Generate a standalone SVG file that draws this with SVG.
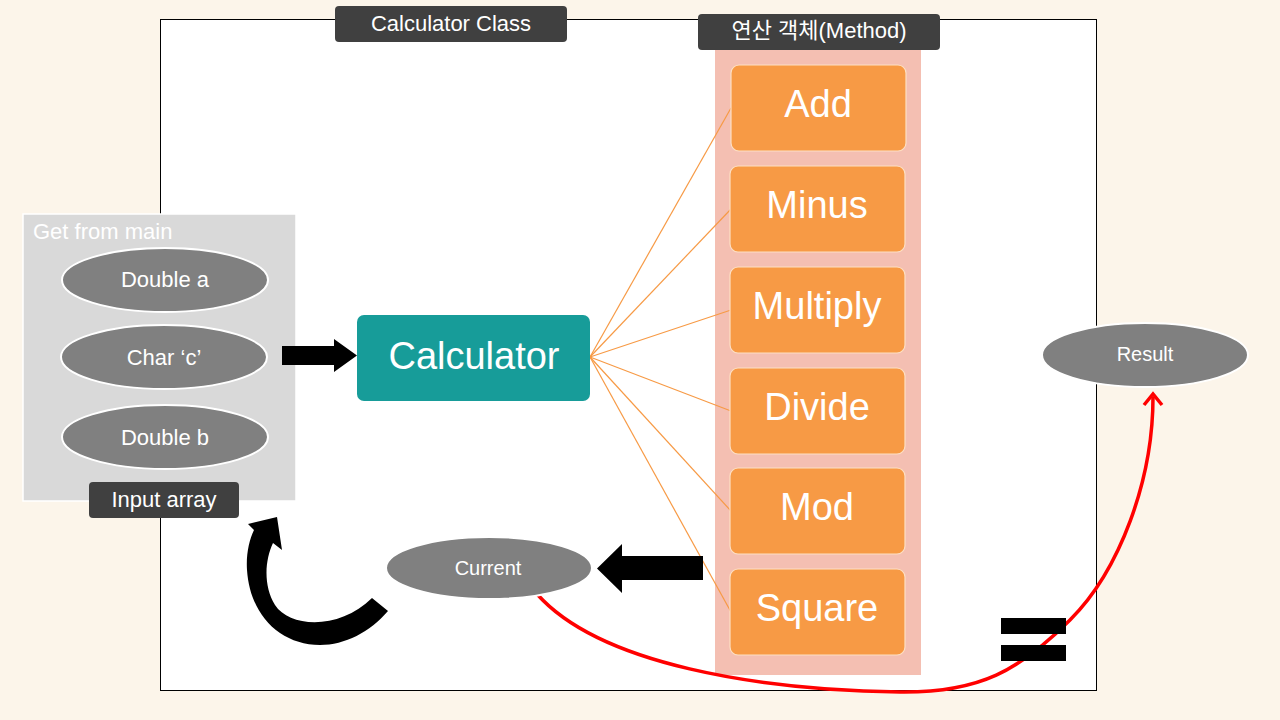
<svg xmlns="http://www.w3.org/2000/svg" width="1280" height="720" viewBox="0 0 1280 720">
<style>
text{font-family:"Liberation Sans","Noto Sans CJK KR",sans-serif;fill:#fff;text-anchor:middle}
.lbl{fill:#404040}
.ell{fill:#808080;stroke:#fff;stroke-width:2}
.op{fill:#f79a45;stroke:#fde0c4;stroke-width:1.2}
.opt{font-size:38px}
.et{font-size:22px}
.conn{stroke:#f79a45;stroke-width:1.2;fill:none}
</style>
<rect width="1280" height="720" fill="#fcf5ea"/>
<rect x="160.5" y="19.5" width="936" height="671" fill="#fff" stroke="#000" stroke-width="1"/>
<g id="classLabel"><rect class="lbl" x="335" y="6" width="232" height="36" rx="4"/><text x="451" y="31" font-size="22">Calculator Class</text></g>
<g id="methodColumn"><rect x="715" y="45" width="206" height="630" fill="#f4bfb2"/></g>
<g id="methodLabel"><rect class="lbl" x="698" y="14" width="242" height="36" rx="4"/><text x="819" y="38" font-size="22">연산 객체(Method)</text></g>
<g id="inputBox">
<rect x="23" y="214" width="273" height="287" fill="#d9d9d9" stroke="#fff" stroke-width="1.5"/>
<text x="33" y="239" font-size="22" style="text-anchor:start">Get from main</text>
</g>
<g id="connectors">
<line class="conn" x1="590" y1="357" x2="731" y2="108"/>
<line class="conn" x1="590" y1="357" x2="731" y2="209"/>
<line class="conn" x1="590" y1="357" x2="731" y2="310"/>
<line class="conn" x1="590" y1="357" x2="731" y2="411"/>
<line class="conn" x1="590" y1="357" x2="731" y2="511"/>
<line class="conn" x1="590" y1="357" x2="731" y2="612"/>
<path d="M537,594 C600,665 760,690 900,692 C980,693 1020,670 1070,620 C1120,570 1153,480 1153,397" fill="none" stroke="#f00" stroke-width="3.5"/>
<path d="M1144,405 L1153,394 L1162,405" fill="none" stroke="#f00" stroke-width="3.5"/>
<path d="M282,346 H334 V339 L357,355.5 L334,372 V365 H282 Z" fill="#000"/>
<path d="M703,556 H622 V544 L597,568.5 L622,593 V580 H703 Z" fill="#000"/>
<path d="M372,598 L388,611 C370,632 345,645 320,645 C280,645 250,615 247,570 C246,555 249,540 254,530 L248,524 L277,517 L282,550 L273,543 C265,560 263,585 275,605 C290,628 340,630 372,598 Z" fill="#000"/>
<rect x="1001" y="618" width="65" height="16" fill="#000"/>
<rect x="1001" y="645" width="65" height="16" fill="#000"/>
</g>
<g id="doubleA"><ellipse class="ell" cx="165" cy="280" rx="103" ry="32"/><text class="et" x="165" y="287">Double a</text></g>
<g id="charC"><ellipse class="ell" cx="164" cy="357" rx="103" ry="32"/><text class="et" x="164" y="365">Char ‘c’</text></g>
<g id="doubleB"><ellipse class="ell" cx="165" cy="437" rx="103" ry="32"/><text class="et" x="165" y="445">Double b</text></g>
<g id="inputArray"><rect class="lbl" x="89" y="482" width="150" height="36" rx="4"/><text x="164" y="507" font-size="22">Input array</text></g>
<g id="calculator"><rect x="357" y="315" width="233" height="86" rx="7" fill="#179c99"/><text x="474" y="369" font-size="38">Calculator</text></g>
<g id="add"><rect class="op" x="731" y="65" width="175" height="86" rx="8"/><text class="opt" x="818" y="117">Add</text></g>
<g id="minus"><rect class="op" x="730" y="166" width="175" height="86" rx="8"/><text class="opt" x="817" y="218">Minus</text></g>
<g id="multiply"><rect class="op" x="730" y="267" width="175" height="86" rx="8"/><text class="opt" x="817" y="319">Multiply</text></g>
<g id="divide"><rect class="op" x="730" y="368" width="175" height="86" rx="8"/><text class="opt" x="817" y="420">Divide</text></g>
<g id="mod"><rect class="op" x="730" y="468" width="175" height="86" rx="8"/><text class="opt" x="817" y="520">Mod</text></g>
<g id="square"><rect class="op" x="730" y="569" width="175" height="86" rx="8"/><text class="opt" x="817" y="621">Square</text></g>
<g id="current"><ellipse class="ell" cx="489" cy="568" rx="103" ry="31" stroke="none"/><text x="488" y="575" font-size="20">Current</text></g>
<g id="result"><ellipse class="ell" cx="1145" cy="355" rx="103" ry="32"/><text x="1145" y="361" font-size="20">Result</text></g>
</svg>
